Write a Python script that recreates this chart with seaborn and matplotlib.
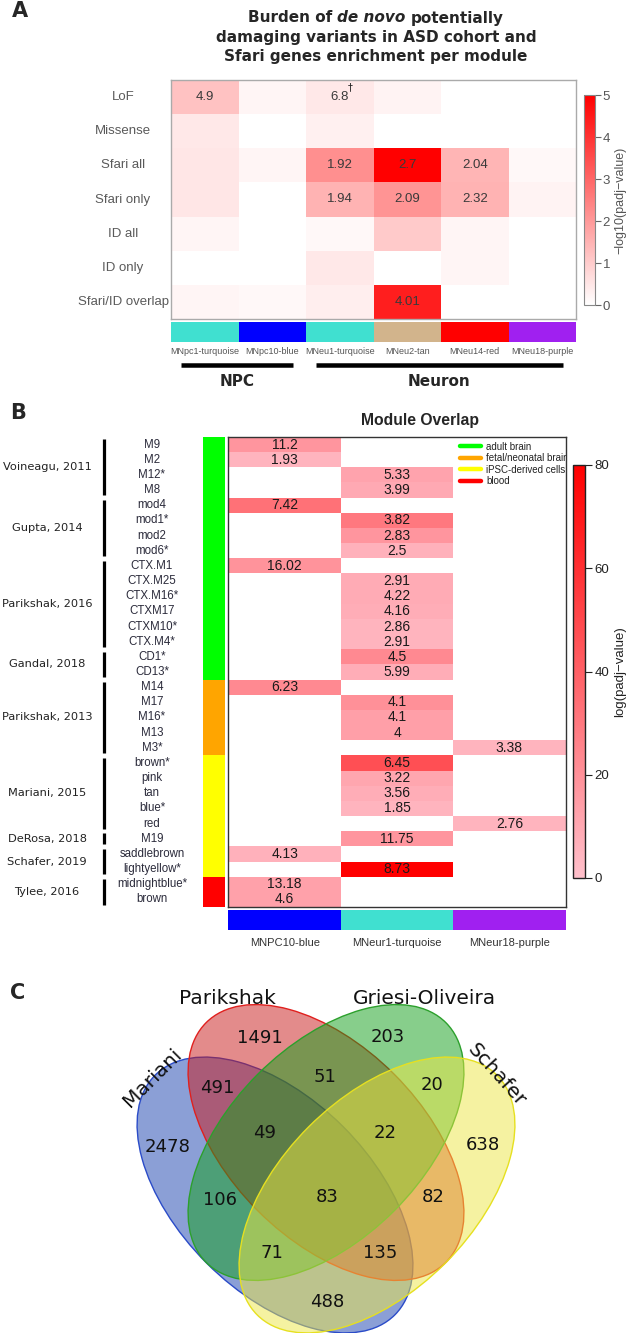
import numpy as np
import pandas as pd
import matplotlib
matplotlib.use("Agg")
import matplotlib.pyplot as plt
import seaborn as sns
from matplotlib.colors import LinearSegmentedColormap, ListedColormap, to_rgba
from matplotlib.patches import Ellipse
from matplotlib.lines import Line2D

# ======================= DATA =======================
# Panel A
a_rows = ["LoF", "Missense", "Sfari all", "Sfari only", "ID all", "ID only", "Sfari/ID overlap"]
a_modules = ["MNpc1-turquoise", "MNpc10-blue", "MNeu1-turquoise", "MNeu2-tan",
             "MNeu14-red", "MNeu18-purple"]
a_module_colors = ["#40E0D0", "#0000FF", "#40E0D0", "#D2B48C", "#FF0000", "#A020F0"]
a_logp = [
    [1.2, 0.2, 0.45, 0.25, 0.0, 0.0],
    [0.45, 0.0, 0.3, 0.0, 0.0, 0.0],
    [0.5, 0.2, 2.2, 5.0, 1.45, 0.15],
    [0.5, 0.0, 1.5, 2.1, 1.5, 0.25],
    [0.2, 0.0, 0.15, 1.05, 0.2, 0.0],
    [0.0, 0.0, 0.45, 0.0, 0.2, 0.0],
    [0.2, 0.15, 0.35, 4.4, 0.0, 0.0],
]
a_annot = [
    ["4.9", "", "6.8", "", "", ""],
    ["", "", "", "", "", ""],
    ["", "", "1.92", "2.7", "2.04", ""],
    ["", "", "1.94", "2.09", "2.32", ""],
    ["", "", "", "", "", ""],
    ["", "", "", "", "", ""],
    ["", "", "", "4.01", "", ""],
]
a_groups = ["NPC", "Neuron"]
a_group_cols = [(0, 2), (2, 6)]
a_cbar_ticks = [0, 1, 2, 3, 4, 5]

# Panel B
b_rows = ["M9", "M2", "M12*", "M8", "mod4", "mod1*", "mod2", "mod6*",
          "CTX.M1", "CTX.M25", "CTX.M16*", "CTXM17", "CTXM10*", "CTX.M4*",
          "CD1*", "CD13*", "M14", "M17", "M16*", "M13", "M3*",
          "brown*", "pink", "tan", "blue*", "red", "M19",
          "saddlebrown", "lightyellow*", "midnightblue*", "brown"]
b_modules = ["MNPC10-blue", "MNeur1-turquoise", "MNeur18-purple"]
b_module_colors = ["#0000FF", "#40E0D0", "#A020F0"]
b_col = [0, 0, 1, 1, 0, 1, 1, 1,
         0, 1, 1, 1, 1, 1,
         1, 1, 0, 1, 1, 1, 2,
         1, 1, 1, 1, 2, 1,
         0, 1, 0, 0]
b_annot = ["11.2", "1.93", "5.33", "3.99", "7.42", "3.82", "2.83", "2.5",
           "16.02", "2.91", "4.22", "4.16", "2.86", "2.91",
           "4.5", "5.99", "6.23", "4.1", "4.1", "4", "3.38",
           "6.45", "3.22", "3.56", "1.85", "2.76", "11.75",
           "4.13", "8.73", "13.18", "4.6"]
b_logp = [18, 5, 12, 9.5, 33, 30, 18, 6.5,
          19, 9, 9, 8, 5, 5,
          23, 8, 23, 20, 14, 14, 5,
          47, 11, 8, 5, 5, 18,
          6.5, 80, 13, 13]
b_tissues = ["adult brain", "fetal/neonatal brain", "iPSC-derived cells", "blood"]
b_tissue_colors = ["#00FF00", "#FFA500", "#FFFF00", "#FF0000"]
b_tissue_idx = [0] * 16 + [1] * 5 + [2] * 8 + [3] * 2
b_studies = ["Voineagu, 2011", "Gupta, 2014", "Parikshak, 2016", "Gandal, 2018",
             "Parikshak, 2013", "Mariani, 2015", "DeRosa, 2018", "Schafer, 2019",
             "Tylee, 2016"]
b_study_sizes = [4, 4, 6, 2, 5, 5, 1, 2, 2]
b_cbar_ticks = [0, 20, 40, 60, 80]

# Panel C (Venn) : membership in (Mariani, Parikshak, Griesi-Oliveira, Schafer)
venn_sets = ["Mariani", "Parikshak", "Griesi-Oliveira", "Schafer"]
venn_set_colors = ["#1941AF", "#C91919", "#119F19", "#EDE745"]
venn_edge_colors = ["#2A4BC8", "#E0201E", "#2CA02C", "#E6E020"]
venn_regions = ["1000", "0100", "0010", "0001", "1100", "0110", "0011", "1001",
                "1110", "0111", "1010", "0101", "1011", "1101", "1111"]
venn_counts = [2478, 1491, 203, 638, 491, 51, 20, 488,
               49, 22, 106, 82, 71, 135, 83]

# ======================= LAYOUT =======================
W, H = 631, 1333
sns.set_theme(style="white")
plt.rcParams['font.family'] = ['DejaVu Sans']
fig = plt.figure(figsize=(W / 100, H / 100), dpi=100)
fig.patch.set_facecolor("white")
PX = 72 / 100  # points per pixel


def add_ax(x0, y0, x1, y1):
    return fig.add_axes([x0 / W, 1 - y1 / H, (x1 - x0) / W, (y1 - y0) / H])


def ftext(x, y, s, **kw):
    kw.setdefault("ha", "center")
    kw.setdefault("va", "center")
    return fig.text(x / W, 1 - y / H, s, **kw)


ARIAL = ["Liberation Sans", "DejaVu Sans"]

# ---------------- Panel A ----------------
ftext(20, 11, "A", fontsize=15, fontweight="bold")

renderer = fig.canvas.get_renderer()
title_kw = dict(fontsize=11, fontweight="bold", family=["DejaVu Sans"])


def rich_line(xc, yc, pieces):
    probe = fig.text(0, 0, "x x", **title_kw)
    probe2 = fig.text(0, 0, "xx", **title_kw)
    sp = probe.get_window_extent(renderer).width - probe2.get_window_extent(renderer).width
    probe.remove(); probe2.remove()
    texts = [fig.text(0, 0, s, fontstyle=st, **title_kw) for s, st in pieces]
    widths = [t.get_window_extent(renderer).width for t in texts]
    total = sum(widths) + sp * (len(texts) - 1)
    x = xc - total / 2
    for t, w in zip(texts, widths):
        t.set_position((x / W, 1 - yc / H))
        t.set_ha("left"); t.set_va("center")
        x += w + sp


rich_line(376, 18, [("Burden of", "normal"), ("de novo", "italic"), ("potentially", "normal")])
ftext(376, 37.5, "damaging variants in ASD cohort and", **title_kw)
ftext(376, 57, "Sfari genes enrichment per module", **title_kw)

cmapA = LinearSegmentedColormap.from_list("wr", ["#FFFFFF", "#FF0000"])
axA = add_ax(171, 80, 576, 319)
caxA = add_ax(584, 95, 595, 305)
dfA = pd.DataFrame(a_logp, index=a_rows, columns=a_modules)
sns.heatmap(dfA, ax=axA, cmap=cmapA, vmin=0, vmax=5, annot=np.array(a_annot), fmt="",
            annot_kws=dict(color="#3a3a3a", fontsize=9.5, family=ARIAL),
            cbar_ax=caxA, xticklabels=False, yticklabels=a_rows, linewidths=0)
axA.tick_params(axis="y", length=0, pad=48 * PX, labelsize=9.5, labelcolor="#5a5a5a")
for lab in axA.get_yticklabels():
    lab.set_rotation(0); lab.set_ha("center"); lab.set_family(ARIAL)
for sp in axA.spines.values():
    sp.set_visible(True); sp.set_color("#AAAAAA"); sp.set_linewidth(1.0)
axA.text(2.66, 0.2, "†", fontsize=7, color="#222222", ha="center", va="center")

cbA = axA.collections[0].colorbar
cbA.set_ticks(a_cbar_ticks)
cbA.ax.tick_params(length=4, width=0.8, color="#666666", labelsize=9.5,
                   labelcolor="#555555", pad=1.5)
for lab in cbA.ax.get_yticklabels():
    lab.set_family(ARIAL)
cbA.outline.set_edgecolor("#888888"); cbA.outline.set_linewidth(0.8)
cbA.set_label("\u2212log10(padj\u2212value)", fontsize=9, color="#555555",
              family=ARIAL, labelpad=3)

axAm = add_ax(171, 322, 576, 342)
sns.heatmap(np.arange(len(a_modules)).reshape(1, -1), ax=axAm,
            cmap=ListedColormap(a_module_colors), vmin=-0.5, vmax=len(a_modules) - 0.5,
            cbar=False, xticklabels=a_modules, yticklabels=False)
axAm.tick_params(axis="x", length=0, pad=5 * PX, labelsize=6.5, labelcolor="#555555")
for lab in axAm.get_xticklabels():
    lab.set_rotation(0); lab.set_family(ARIAL)

axAg = add_ax(171, 355, 576, 395)
axAg.set_xlim(0, len(a_modules)); axAg.set_ylim(395, 355); axAg.axis("off")
for name, (c0, c1) in zip(a_groups, a_group_cols):
    axAg.plot([c0 + 0.15, c1 - 0.2], [365, 365], color="black", lw=4.5 * PX,
              solid_capstyle="butt")
    axAg.text((c0 + 0.15 + c1 - 0.2) / 2, 382, name, ha="center", va="center",
              fontsize=11, fontweight="bold")

# ---------------- Panel B ----------------
ftext(18, 413, "B", fontsize=15, fontweight="bold")
ftext(420, 420, "Module Overlap", fontsize=11.3, fontweight="bold", family=ARIAL)

nB = len(b_rows)
matB = np.full((nB, len(b_modules)), np.nan)
annB = np.full((nB, len(b_modules)), "", dtype=object)
for i, (c, v, a) in enumerate(zip(b_col, b_logp, b_annot)):
    matB[i, c] = v
    annB[i, c] = a
dfB = pd.DataFrame(matB, index=b_rows, columns=b_modules)

cmapB = LinearSegmentedColormap.from_list("pr", ["#FFC0CB", "#FF0000"])
axB = add_ax(228.5, 437, 565.5, 907)
caxB = add_ax(573, 465, 585, 878)
axB.set_facecolor("white")
sns.heatmap(dfB, ax=axB, cmap=cmapB, vmin=0, vmax=80, annot=annB, fmt="",
            annot_kws=dict(color="#1a1a1a", fontsize=10, family=ARIAL),
            cbar_ax=caxB, xticklabels=False, yticklabels=b_rows, linewidths=0)
axB.tick_params(axis="y", length=0, pad=76.5 * PX, labelsize=8.3, labelcolor="#2b2b3b")
for lab in axB.get_yticklabels():
    lab.set_rotation(0); lab.set_ha("center"); lab.set_family(ARIAL)
for sp in axB.spines.values():
    sp.set_visible(True); sp.set_color("#333333"); sp.set_linewidth(1.0)

cbB = axB.collections[0].colorbar
cbB.set_ticks(b_cbar_ticks)
cbB.ax.tick_params(length=5, width=0.8, color="#222222", labelsize=9.5,
                   labelcolor="#222222", pad=2)
for lab in cbB.ax.get_yticklabels():
    lab.set_family(ARIAL)
cbB.outline.set_edgecolor("#222222"); cbB.outline.set_linewidth(1.0)
cbB.set_label("log(padj\u2212value)", fontsize=9.5, color="#222222", family=ARIAL,
              labelpad=3)

handles = [Line2D([0], [0], color=c, lw=3.2 * PX * 1.4, solid_capstyle="round")
           for c in b_tissue_colors]
leg = axB.legend(handles, b_tissues, loc="upper left", bbox_to_anchor=(0.688, 0.99),
                 frameon=False, fontsize=7, handlelength=2.1, handletextpad=0.55,
                 labelspacing=0.15, borderaxespad=0, borderpad=0)
for t in leg.get_texts():
    t.set_family(ARIAL); t.set_color("#222222")
    t.set_clip_on(True); t.set_clip_box(axB.bbox)

axBs = add_ax(203, 437, 225, 907)
sns.heatmap(np.array(b_tissue_idx).reshape(-1, 1), ax=axBs,
            cmap=ListedColormap(b_tissue_colors), vmin=-0.5, vmax=len(b_tissues) - 0.5,
            cbar=False, xticklabels=False, yticklabels=False)

axBg = add_ax(0, 437, 200, 907)
axBg.set_xlim(0, 200); axBg.set_ylim(nB, 0); axBg.axis("off")
start = 0
for name, size in zip(b_studies, b_study_sizes):
    axBg.plot([103.5, 103.5], [start + 0.15, start + size - 0.15], color="black",
              lw=3.2 * PX, solid_capstyle="butt")
    axBg.text(47, start + size / 2, name, ha="center", va="center", fontsize=8.2,
              color="#222222")
    start += size

axBm = add_ax(228.5, 910, 565.5, 930)
sns.heatmap(np.arange(len(b_modules)).reshape(1, -1), ax=axBm,
            cmap=ListedColormap(b_module_colors), vmin=-0.5, vmax=len(b_modules) - 0.5,
            cbar=False, xticklabels=b_modules, yticklabels=False)
axBm.tick_params(axis="x", length=0, pad=8 * PX, labelsize=8, labelcolor="#333333")
for lab in axBm.get_xticklabels():
    lab.set_rotation(0); lab.set_family(ARIAL)

# ---------------- Panel C (Venn) ----------------
ftext(18, 993, "C", fontsize=15, fontweight="bold")
axC = add_ax(0, 975, 631, 1333)
axC.set_xlim(0, 631); axC.set_ylim(1333, 975); axC.axis("off")

ell_layout = [((275, 1195), 45), ((326, 1142.5), 45), ((326, 1142.5), -45), ((377, 1195), -45)]
for (ctr, ang), fc, ec in zip(ell_layout, venn_set_colors, venn_edge_colors):
    axC.add_patch(Ellipse(ctr, 339, 193, angle=ang, facecolor=to_rgba(fc, 0.5),
                          edgecolor=ec, lw=1.0))

region_pos = {"1000": (168, 1147), "0100": (260, 1038), "0010": (388, 1037),
              "0001": (483, 1145), "1100": (217, 1088), "0110": (325, 1077),
              "0011": (432, 1085), "1001": (327, 1302), "1110": (265, 1133),
              "0111": (385, 1133), "1010": (220, 1200), "0101": (433, 1197),
              "1011": (272, 1253), "1101": (380, 1253), "1111": (327, 1197)}
for reg, cnt in zip(venn_regions, venn_counts):
    x, y = region_pos[reg]
    axC.text(x, y, str(cnt), ha="center", va="center", fontsize=13, color="#111111")

set_label_pos = [((152, 1078), 45), ((227, 998), 0), ((424, 998), 0), ((497, 1075), -48)]
for name, ((x, y), rot) in zip(venn_sets, set_label_pos):
    axC.text(x, y, name, ha="center", va="center", rotation=rot, fontsize=14.5,
             color="#111111", rotation_mode="anchor")

fig.savefig("out.png", dpi=100, facecolor="white")
